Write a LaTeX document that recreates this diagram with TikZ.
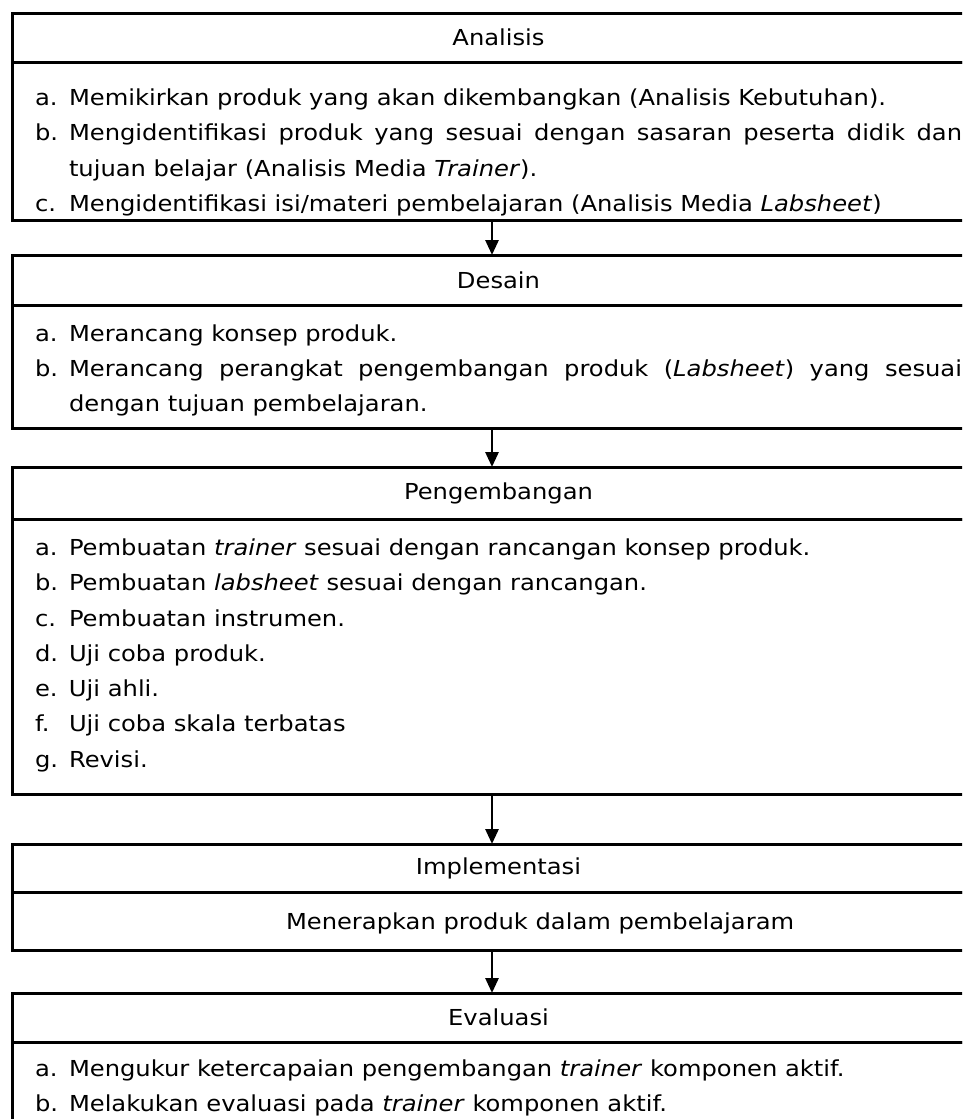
\documentclass[tikz,border=0pt]{standalone}
\usepackage{fontspec}
\setmainfont{DejaVu Sans}[FakeStretch=1.1]
\usetikzlibrary{arrows.meta}
\hyphenpenalty=10000
\exhyphenpenalty=10000
\newcommand{\butir}[2]{\par\noindent\hangindent=34pt\hangafter=1\makebox[34pt][l]{#1}#2\par}
\tikzset{judul/.style = {draw, line width=3pt, outer sep=0, minimum width=973pt, inner sep=0, font=\fontsize{22}{35.3}\selectfont},
  isi/.style = {draw, line width=3pt, outer sep=0, minimum width=973pt, text width=927pt, align=justify, inner sep=0, font=\fontsize{22}{35.3}\selectfont},
  panah/.style = {line width=2.8pt, -{Triangle[length=15pt, width=13pt]}}}

\begin{document}
\begin{tikzpicture}[x=1pt, y=-1pt]
    \useasboundingbox (0, 0) rectangle (962, 1119);
    \clip (0, 0) rectangle (962, 1119);

    \node [judul, minimum height=49pt] (analisisJudul) at (498.5, 37.5) {Analisis};
    \node [isi, minimum height=158pt, anchor=north] (analisisIsi) at (analisisJudul.south) {\vspace*{4pt}%
        \butir{a.}{Memikirkan produk yang akan dikembangkan (Analisis Kebutuhan).}
        \butir{b.}{Mengidentifikasi produk yang sesuai dengan sasaran peserta didik dan\linebreak tujuan belajar (Analisis Media \textit{Trainer}).}
        \butir{c.}{Mengidentifikasi isi/materi pembelajaran (Analisis Media \textit{Labsheet})}};

    \node [judul, minimum height=50pt] (desainJudul) at (498.5, 280) {Desain};
    \node [isi, minimum height=123pt, anchor=north] (desainIsi) at (desainJudul.south) {\vspace*{-11pt}%
        \butir{a.}{Merancang konsep produk.}
        \butir{b.}{Merancang perangkat pengembangan produk (\textit{Labsheet}) yang sesuai\linebreak dengan tujuan pembelajaran.}};

    \node [judul, minimum height=52pt] (pengembanganJudul) at (498.5, 493) {Pengembangan};
    \node [isi, minimum height=275pt, anchor=north] (pengembanganIsi) at (pengembanganJudul.south) {\vspace*{-21pt}%
        \butir{a.}{Pembuatan \textit{trainer} sesuai dengan rancangan konsep produk.}
        \butir{b.}{Pembuatan \textit{labsheet} sesuai dengan rancangan.}
        \butir{c.}{Pembuatan instrumen.}
        \butir{d.}{Uji coba produk.}
        \butir{e.}{Uji ahli.}
        \butir{f.}{Uji coba skala terbatas}
        \butir{g.}{Revisi.}};

    \node [judul, minimum height=48pt] (implementasiJudul) at (498.5, 868) {Implementasi};
    \node [isi, minimum height=58pt, anchor=north] (implementasiIsi) at (implementasiJudul.south) {\vspace*{-7pt}\hspace*{251pt}Menerapkan produk dalam pembelajaram};

    \node [judul, minimum height=49pt] (evaluasiJudul) at (498.5, 1017.5) {Evaluasi};
    \node [isi, minimum height=86pt, anchor=north] (evaluasiIsi) at (evaluasiJudul.south) {\vspace*{-13pt}%
        \butir{a.}{Mengukur ketercapaian pengembangan \textit{trainer} komponen aktif.}
        \butir{b.}{Melakukan evaluasi pada \textit{trainer} komponen aktif.}};

    \draw [panah] ([xshift=-6.5pt]analisisIsi.south) -- ([xshift=-6.5pt]desainJudul.north);
    \draw [panah] ([xshift=-6.5pt]desainIsi.south) -- ([xshift=-6.5pt]pengembanganJudul.north);
    \draw [panah] ([xshift=-6.5pt]pengembanganIsi.south) -- ([xshift=-6.5pt]implementasiJudul.north);
    \draw [panah] ([xshift=-6.5pt]implementasiIsi.south) -- ([xshift=-6.5pt]evaluasiJudul.north);
\end{tikzpicture}
\end{document}
